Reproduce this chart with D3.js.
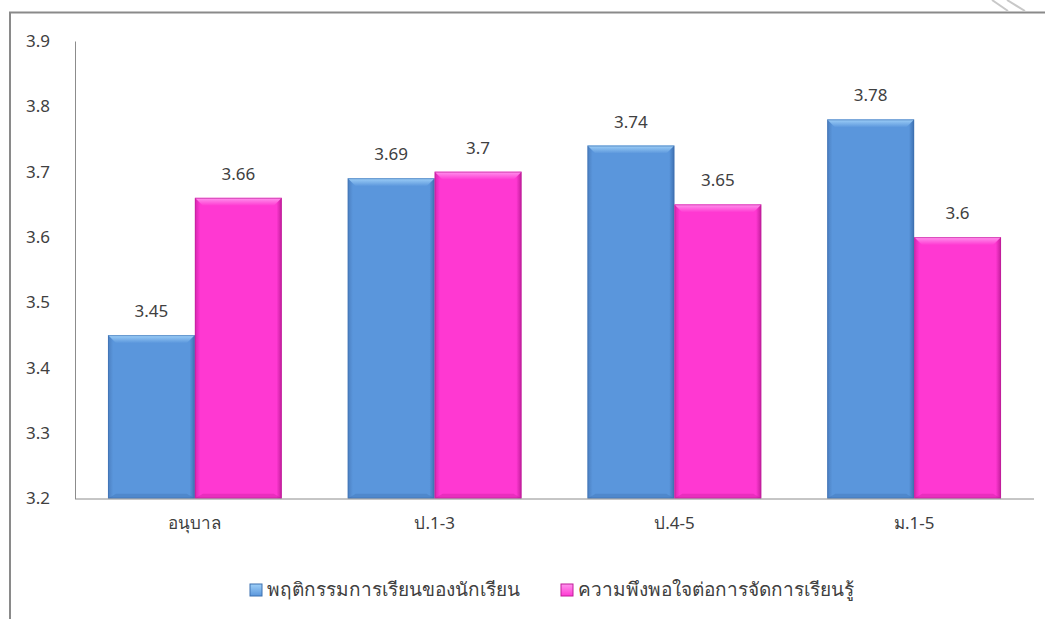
<!DOCTYPE html>
<html><head><meta charset="utf-8">
<script src="https://cdn.jsdelivr.net/npm/d3@7"></script>
<style>
html,body{margin:0;padding:0;background:#fff;}
text{font-family:"Noto Sans","DejaVu Sans",sans-serif;fill:#404040;}
</style></head>
<body><svg id="c" width="1045" height="619"></svg>
<script>
const categories = ["อนุบาล","ป.1-3","ป.4-5","ม.1-5"];
const seriesNames = ["พฤติกรรมการเรียนของนักเรียน","ความพึงพอใจต่อการจัดการเรียนรู้"];
const behaviour = [3.45,3.69,3.74,3.78];
const satisfaction = [3.66,3.7,3.65,3.6];
const yTicks = [3.2,3.3,3.4,3.5,3.6,3.7,3.8,3.9];
const labels = [["3.45","3.69","3.74","3.78"],["3.66","3.7","3.65","3.6"]];

const svg = d3.select("#c");
const pL=75,pR=1034,pT=41,pB=498.5;

// frame
svg.append("path").attr("d","M10,619 L10,12.5 L1045,12.5").attr("fill","none").attr("stroke","#8a8a8a").attr("stroke-width",2);
svg.append("line").attr("x1",992).attr("y1",0).attr("x2",1008).attr("y2",11).attr("stroke","#c8c8c8").attr("stroke-width",2);
svg.append("line").attr("x1",1007).attr("y1",0).attr("x2",1025).attr("y2",11).attr("stroke","#c8c8c8").attr("stroke-width",2);

const defs = svg.append("defs");
const colors = [
  {base:"#5a96dc", light:"#9fd0f8", dark:"#3d70b0", edge:"#4b7fc0"},
  {base:"#ff38d2", light:"#ff95ee", dark:"#c01c9a", edge:"#d326ae"}
];
colors.forEach((c,i)=>{
  const g = defs.append("linearGradient").attr("id","g"+i).attr("x1","0").attr("x2","1").attr("y1","0").attr("y2","0");
  g.append("stop").attr("offset","0").attr("stop-color",c.edge);
  g.append("stop").attr("offset","0.06").attr("stop-color",c.base);
  g.append("stop").attr("offset","0.94").attr("stop-color",c.base);
  g.append("stop").attr("offset","1").attr("stop-color",c.dark);
  const t = defs.append("linearGradient").attr("id","t"+i).attr("x1","0").attr("x2","0").attr("y1","0").attr("y2","1");
  t.append("stop").attr("offset","0").attr("stop-color",c.light);
  t.append("stop").attr("offset","1").attr("stop-color",c.base);
});

const x0 = d3.scaleBand().domain(categories).range([pL,pR]).paddingInner(0.275).paddingOuter(0.1375);
const x1 = d3.scaleBand().domain([0,1]).range([0,x0.bandwidth()]);
const y = d3.scaleLinear().domain([3.2,3.9]).range([pB,pT]);

// y axis
const ya = d3.axisLeft(y).tickValues(yTicks).tickSize(0).tickPadding(22).tickFormat(d3.format(".1f"));
const yg = svg.append("g").attr("transform",`translate(${pL},0)`).call(ya);
yg.select(".domain").attr("stroke","#8c8c8c");
yg.selectAll("text").style("font-size","17px").attr("fill","#404040").attr("text-anchor","start").attr("x",-49);

const series=[behaviour,satisfaction];
series.forEach((vals,si)=>{
  const g = svg.append("g");
  categories.forEach((cat,ci)=>{
    const bx = x0(cat)+x1(si), bw=x1.bandwidth();
    const by = y(vals[ci]), bh = pB-by;
    g.append("rect").attr("x",bx).attr("y",by).attr("width",bw).attr("height",bh).attr("fill",`url(#g${si})`);
    const bev=8;
    g.append("path").attr("d",`M${bx},${by} L${bx+bw},${by} L${bx+bw-bev},${by+bev} L${bx+bev},${by+bev} Z`).attr("fill",`url(#t${si})`);
    g.append("path").attr("d",`M${bx},${pB} L${bx+bw},${pB} L${bx+bw-bev},${pB-bev*0.6} L${bx+bev},${pB-bev*0.6} Z`).attr("fill",colors[si].dark).attr("opacity",0.35);
    g.append("rect").attr("x",bx+0.5).attr("y",by+0.5).attr("width",bw-1).attr("height",bh-1).attr("fill","none").attr("stroke",colors[si].dark).attr("stroke-opacity",0.6).attr("stroke-width",1);
    svg.append("text").attr("x",bx+bw/2).attr("y",by-18).attr("text-anchor","middle").style("font-size","17px").text(labels[si][ci]);
  });
});

// x axis
const xa = d3.axisBottom(x0).tickSize(0).tickPadding(18);
const xg = svg.append("g").attr("transform",`translate(0,${pB})`).call(xa);
xg.select(".domain").attr("stroke","#8c8c8c").attr("d",`M${pL},0.5H${pR}`);
xg.selectAll("text").style("font-size","17px").attr("fill","#404040");

// legend
const legX=[250,561];
seriesNames.forEach((n,i)=>{
  const lg=svg.append("g").attr("transform",`translate(${legX[i]},584)`);
  lg.append("rect").attr("width",12).attr("height",12).attr("fill",`url(#t${i})`).attr("stroke",colors[i].dark).attr("stroke-width",1);
  lg.append("text").attr("x",17).attr("y",12).style("font-size","19px").text(n);
});
</script></body></html>
